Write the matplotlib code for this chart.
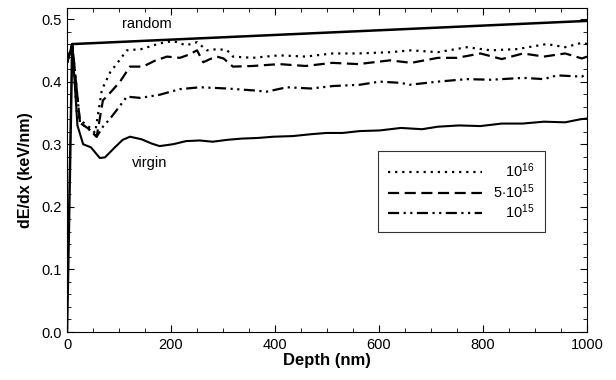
import numpy as np
import matplotlib.pyplot as plt
from matplotlib.ticker import MultipleLocator

plt.rcParams['font.family'] = ['Liberation Sans', 'DejaVu Sans']
plt.rcParams['mathtext.fontset'] = 'custom'
plt.rcParams['mathtext.rm'] = 'Liberation Sans'
plt.rcParams['mathtext.it'] = 'Liberation Sans:italic'

# depth (nm) / stopping (keV/nm)
random_x = [0, 10, 1000]
random_y = [0.0, 0.46, 0.497]

virgin_x = [0, 10, 20, 31, 46, 56, 63, 73, 92, 107, 121, 143, 163, 178, 204, 229, 255, 280, 308, 336, 367, 397,
            434, 469, 499, 530, 563, 601, 642, 683, 713, 754, 795, 836, 876, 917, 958, 988, 1000]
virgin_y = [0.43, 0.46, 0.33, 0.30, 0.295, 0.285, 0.278, 0.279, 0.295, 0.307, 0.312, 0.308, 0.301, 0.297, 0.300,
            0.305, 0.306, 0.304, 0.307, 0.309, 0.310, 0.312, 0.313, 0.316, 0.318, 0.318, 0.321, 0.322, 0.326,
            0.324, 0.328, 0.330, 0.329, 0.333, 0.333, 0.336, 0.335, 0.340, 0.341]

d16_x = [0, 10, 19, 31, 46, 54, 67, 83, 97, 115, 143, 178, 204, 229, 250, 269, 290, 308, 319, 357, 408, 459,
         510, 560, 621, 662, 713, 769, 815, 866, 922, 958, 990, 1000]
d16_y = [0.43, 0.46, 0.347, 0.335, 0.325, 0.318, 0.387, 0.415, 0.43, 0.45, 0.452, 0.461, 0.465, 0.458, 0.463,
         0.45, 0.452, 0.45, 0.44, 0.438, 0.442, 0.44, 0.445, 0.445, 0.447, 0.45, 0.447, 0.455, 0.45, 0.452,
         0.46, 0.455, 0.462, 0.46]

d5_x = [0, 10, 25, 41, 57, 69, 86, 102, 121, 146, 168, 192, 217, 234, 250, 262, 275, 288, 301, 319, 357, 408,
        459, 510, 560, 621, 662, 713, 750, 795, 836, 877, 917, 958, 990, 1000]
d5_y = [0.43, 0.46, 0.334, 0.325, 0.312, 0.37, 0.385, 0.40, 0.424, 0.424, 0.433, 0.44, 0.438, 0.443, 0.45,
        0.431, 0.436, 0.44, 0.437, 0.424, 0.425, 0.428, 0.425, 0.43, 0.428, 0.434, 0.43, 0.438, 0.438, 0.445,
        0.436, 0.445, 0.44, 0.445, 0.437, 0.44]

d15_x = [0, 10, 25, 41, 57, 69, 82, 96, 115, 141, 178, 204, 217, 256, 308, 358, 384, 423, 469, 512, 563,
         601, 642, 659, 713, 769, 815, 877, 917, 942, 990, 1000]
d15_y = [0.43, 0.46, 0.334, 0.325, 0.312, 0.328, 0.34, 0.355, 0.376, 0.374, 0.379, 0.385, 0.388, 0.391,
         0.389, 0.386, 0.384, 0.391, 0.389, 0.393, 0.395, 0.40, 0.398, 0.395, 0.40, 0.404, 0.403, 0.406,
         0.404, 0.41, 0.408, 0.413]

fig = plt.figure(figsize=(6.16, 3.8), dpi=100)
ax = fig.add_axes([0.1088, 0.1263, 0.8442, 0.8526])

ax.plot(random_x, random_y, color='black', lw=1.8)
ax.plot(virgin_x, virgin_y, color='black', lw=1.5)
ax.plot(d16_x, d16_y, color='black', lw=1.6, linestyle=(0, (1, 2.2)), label='   $10^{16}$')
ax.plot(d5_x, d5_y, color='black', lw=1.6, linestyle=(0, (5, 2.5)), label=r'$5{\cdot}10^{15}$')
ax.plot(d15_x, d15_y, color='black', lw=1.6, linestyle=(0, (5, 2, 1, 2, 1, 2)), label='   $10^{15}$')

ax.text(154, 0.492, 'random', ha='center', va='center', fontsize=10.5)
ax.text(158, 0.27, 'virgin', ha='center', va='center', fontsize=10.5)

ax.set_xlim(0, 1000)
ax.set_ylim(0, 0.5176)
ax.set_xticks([0, 200, 400, 600, 800, 1000])
ax.set_yticks([0.0, 0.1, 0.2, 0.3, 0.4, 0.5])
ax.set_yticklabels(['0.0', '0.1', '0.2', '0.3', '0.4', '0.5'])
ax.xaxis.set_minor_locator(MultipleLocator(50))
ax.yaxis.set_minor_locator(MultipleLocator(0.02))
ax.tick_params(which='both', direction='in', top=True, right=True, labelsize=10.5, pad=4)
ax.tick_params(which='major', length=5)
ax.tick_params(which='minor', length=3)
ax.set_xlabel('Depth (nm)', fontsize=12, fontweight='bold', labelpad=1)
ax.set_ylabel('dE/dx (keV/nm)', fontsize=11.5, fontweight='bold', labelpad=6)

leg = ax.legend(loc='upper left', bbox_to_anchor=(0.598, 0.5586), handlelength=6.4, frameon=True,
                fancybox=False, edgecolor='black', fontsize=10.5, labelspacing=0.15, handletextpad=0.8,
                borderpad=0.7, borderaxespad=0)
leg.get_frame().set_linewidth(0.8)

fig.savefig('out.png', dpi=100)
